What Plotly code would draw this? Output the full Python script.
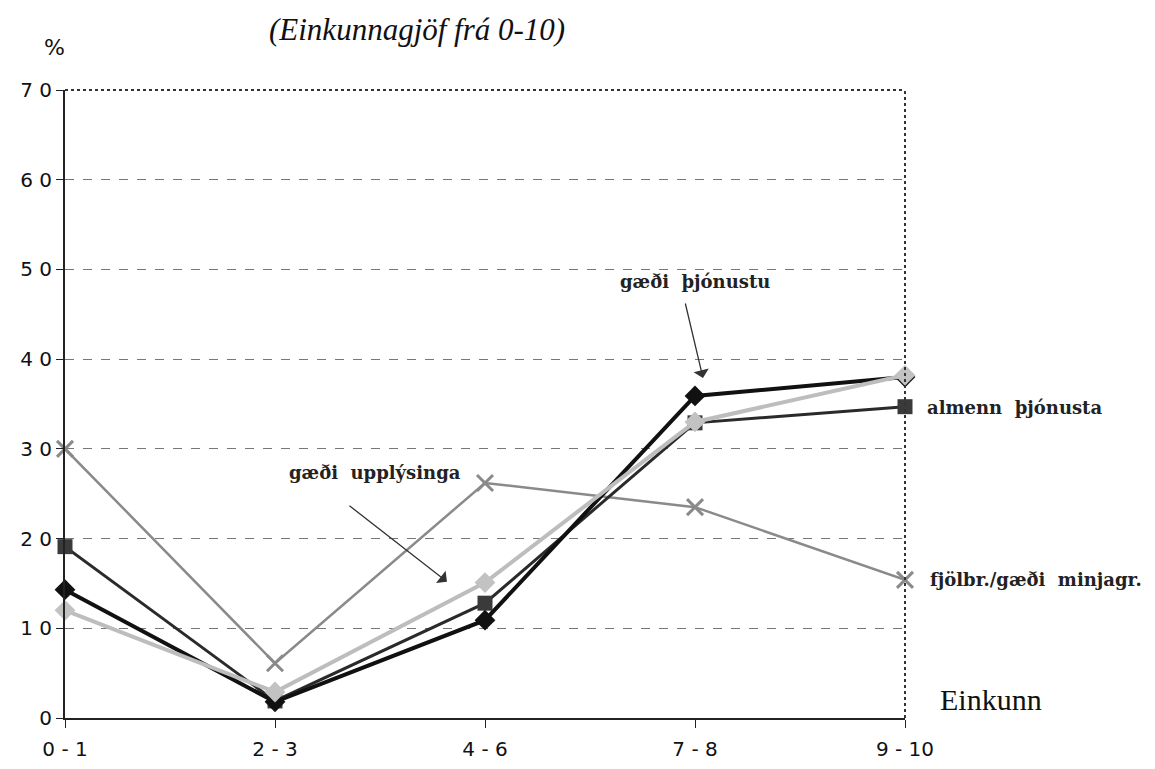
import plotly.graph_objects as go

categories = ["0 - 1", "2 - 3", "4 - 6", "7 - 8", "9 - 10"]
thjonustu = [14.3, 1.8, 10.9, 35.9, 38.0]
almenn = [19.1, 1.9, 12.8, 32.9, 34.7]
upplysinga = [12.0, 2.9, 15.1, 33.0, 38.2]
minjagr = [30.0, 6.1, 26.2, 23.5, 15.4]
yticks = [0, 10, 20, 30, 40, 50, 60, 70]
ytext = ["0", "1 0", "2 0", "3 0", "4 0", "5 0", "6 0", "7 0"]

xs = list(range(len(categories)))
fig = go.Figure()

fig.add_trace(go.Scatter(x=xs, y=minjagr, mode="lines+markers", name="fjölbr./gæði minjagr.",
                         line=dict(color="#8a8a8a", width=2.5),
                         marker=dict(symbol="x-thin-open", size=16, line=dict(color="#777", width=3)),
                         cliponaxis=False))
fig.add_trace(go.Scatter(x=xs, y=almenn, mode="lines+markers", name="almenn þjónusta",
                         line=dict(color="#2a2a2a", width=3),
                         marker=dict(symbol="square", size=15, color="#3a3a3a"),
                         cliponaxis=False))
fig.add_trace(go.Scatter(x=xs, y=thjonustu, mode="lines+markers", name="gæði þjónustu",
                         line=dict(color="#111", width=4),
                         marker=dict(symbol="diamond", size=16, color="#111"),
                         cliponaxis=False))
fig.add_trace(go.Scatter(x=xs, y=upplysinga, mode="lines+markers", name="gæði upplýsinga",
                         line=dict(color="#bdbdbd", width=4),
                         marker=dict(symbol="diamond", size=16, color="#c2c2c2"),
                         cliponaxis=False))

serif = "DejaVu Serif, Liberation Serif, serif"
tserif = "Liberation Serif, Times New Roman, serif"
sans = "DejaVu Sans, Liberation Sans, Arial, sans-serif"
lab = dict(family=serif, size=18, color="#222")

annotations = [
    dict(x=1.476, y=27.4, text="<b>gæði  upplýsinga</b>", showarrow=False, font=lab),
    dict(x=1.819, y=15.2, ax=-99, ay=-77, text="", showarrow=True, arrowhead=1,
         arrowsize=2, arrowwidth=1.3, arrowcolor="#333"),
    dict(x=3.0, y=48.6, text="<b>gæði  þjónustu</b>", showarrow=False, font=lab),
    dict(x=3.038, y=37.9, ax=-18, ay=-76, text="", showarrow=True, arrowhead=1,
         arrowsize=2, arrowwidth=1.3, arrowcolor="#333"),
    dict(xref="paper", yref="paper", x=1.024, y=0.494, text="<b>almenn  þjónusta</b>",
         showarrow=False, xanchor="left", yanchor="middle", font=lab),
    dict(xref="paper", yref="paper", x=1.027, y=0.22, text="<b>fjölbr./gæði  minjagr.</b>",
         showarrow=False, xanchor="left", yanchor="middle", font=lab),
    dict(xref="paper", yref="paper", x=1.039, y=0.029, text="Einkunn", showarrow=False,
         xanchor="left", yanchor="middle", font=dict(family=tserif, size=30, color="#111")),
    dict(xref="paper", yref="paper", x=0.419, y=1.096, text="<i>(Einkunnagjöf frá 0-10)</i>",
         showarrow=False, xanchor="center", yanchor="middle",
         font=dict(family=tserif, size=31, color="#111")),
    dict(xref="paper", yref="paper", x=-0.012, y=1.067, text="%", showarrow=False,
         xanchor="center", yanchor="middle", font=dict(family=sans, size=22, color="#111")),
]

fig.update_layout(
    width=1155, height=769,
    margin=dict(l=57, r=258, t=82, b=59),
    paper_bgcolor="white", plot_bgcolor="white",
    showlegend=False,
    annotations=annotations,
    shapes=[
        dict(type="line", xref="paper", yref="paper", x0=0, x1=1, y0=1, y1=1,
             line=dict(color="#333", width=2, dash="dot")),
        dict(type="line", xref="paper", yref="paper", x0=1, x1=1, y0=0, y1=1,
             line=dict(color="#333", width=2, dash="dot")),
    ],
)
fig.update_xaxes(range=[0, 4], tickvals=xs, ticktext=categories, showgrid=False,
                 showline=True, linecolor="#222", linewidth=2, ticks="outside", ticklen=8,
                 tickcolor="#222", zeroline=False, ticklabelstandoff=4,
                 tickfont=dict(family=sans, size=20, color="#111"))
fig.update_yaxes(range=[0, 70], tickvals=yticks, ticktext=ytext, showgrid=True,
                 gridcolor="#777", griddash="dash", gridwidth=1,
                 showline=True, linecolor="#222", linewidth=2, ticks="outside", ticklen=7,
                 tickcolor="#222", zeroline=False,
                 tickfont=dict(family=sans, size=20, color="#111"))

fig.write_html("out.html")
